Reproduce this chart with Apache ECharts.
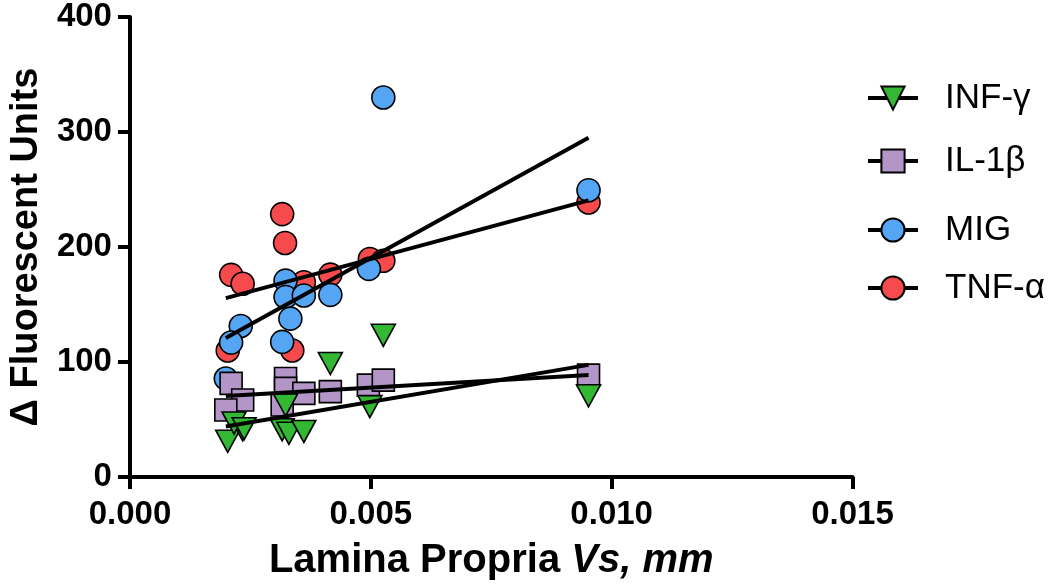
<!DOCTYPE html>
<html>
<head>
<meta charset="utf-8">
<script src="https://cdn.jsdelivr.net/npm/echarts@6/dist/echarts.min.js"></script>
<style>
html,body{margin:0;padding:0;background:#fff;}
#chart{width:1050px;height:586px;}
</style>
</head>
<body>
<div id="chart"></div>
<script>
// ---- data ----
const seriesNames = ['INF-γ', 'IL-1β', 'MIG', 'TNF-α'];

const infX = [0.00203, 0.00234, 0.00216, 0.00237, 0.00323, 0.00316, 0.00330, 0.00361, 0.00498, 0.00416, 0.00526, 0.00952];
const infY = [31, 41, 47, 42, 62.6, 41, 38, 39.6, 61.2, 98.7, 123.2, 70.6];

const ilX = [0.00210, 0.00234, 0.00199, 0.00323, 0.00323, 0.00361, 0.00416, 0.00495, 0.00526, 0.00316, 0.00952];
const ilY = [81.4, 66.9, 58.3, 85.7, 77.1, 72.7, 74.2, 79.9, 84.2, 62.6, 88.6];

const migX = [0.00496, 0.00526, 0.00952, 0.00323, 0.00323, 0.00361, 0.00416, 0.00333, 0.00230, 0.00210, 0.00316, 0.00199];
const migY = [181, 330, 249.4, 170.8, 156.5, 157.8, 158.4, 137.7, 131.3, 116.9, 117.5, 85.7];

const tnfX = [0.00316, 0.00322, 0.00210, 0.00234, 0.00361, 0.00416, 0.00498, 0.00526, 0.00203, 0.00337, 0.00952];
const tnfY = [228.6, 203.5, 175.8, 168, 169.4, 176, 189.6, 188, 110, 110, 238.7];

// regression lines (end points)
const fitX = [0.00199, 0.00952];
const fitINF = [43.9, 97.5];
const fitIL = [70.5, 88.8];
const fitMIG = [120.9, 294.9];
const fitTNF = [155.6, 240.6];

const xTicks = [0, 0.005, 0.010, 0.015];
const yTicks = [0, 100, 200, 300, 400];

// ---- chart ----
const FONT = "'Liberation Sans', Arial, sans-serif";
const pairs = (xs, ys) => xs.map((x, i) => [x, ys[i]]);

const colors = {
  'INF-γ': '#33b833',
  'IL-1β': '#b395c8',
  'MIG': '#55a5f5',
  'TNF-α': '#f64a4c'
};
const symbols = {
  'INF-γ': {symbol: 'triangle', size: [24, 22], rotate: 180},
  'IL-1β': {symbol: 'rect', size: 22, rotate: 0},
  'MIG': {symbol: 'circle', size: 23, rotate: 0},
  'TNF-α': {symbol: 'circle', size: 23, rotate: 0}
};
const dataMap = {
  'INF-γ': pairs(infX, infY),
  'IL-1β': pairs(ilX, ilY),
  'MIG': pairs(migX, migY),
  'TNF-α': pairs(tnfX, tnfY)
};
const fitMap = {
  'INF-γ': fitINF, 'IL-1β': fitIL, 'MIG': fitMIG, 'TNF-α': fitTNF
};

// draw order (bottom to top): TNF, MIG, IL, INF
const drawOrder = ['TNF-α', 'MIG', 'IL-1β', 'INF-γ'];
const series = drawOrder.map((name, i) => ({
  name: name,
  type: 'line',
  data: dataMap[name],
  symbol: symbols[name].symbol,
  symbolSize: symbols[name].size,
  symbolRotate: symbols[name].rotate,
  showSymbol: true,
  showAllSymbol: true,
  lineStyle: {width: 0, opacity: 0},
  itemStyle: {color: colors[name], borderColor: '#000', borderWidth: 1.6, opacity: 1},
  emphasis: {disabled: true},
  z: 2 + i,
  animation: false
}));
seriesNames.forEach(name => {
  series.push({
    name: name + ' fit',
    type: 'line',
    data: pairs(fitX, fitMap[name]),
    symbol: 'none',
    lineStyle: {color: '#000', width: 4},
    silent: true,
    z: 10,
    animation: false
  });
});

const legendCenters = [95, 158, 227, 285];
const legends = seriesNames.map((name, i) => ({
  data: [name],
  left: 866,
  top: legendCenters[i] - 14.5,
  orient: 'vertical',
  padding: 0,
  itemWidth: 50,
  itemHeight: 29,
  selectedMode: false,
  lineStyle: {color: '#000', width: 4, opacity: 1},
  textStyle: {fontFamily: FONT, fontSize: 35, color: '#000', lineHeight: 29, padding: [0, 0, 0, 22]}
}));

const chart = echarts.init(document.getElementById('chart'), null, {renderer: 'canvas'});
chart.setOption({
  animation: false,
  backgroundColor: '#fff',
  grid: {left: 125, right: 1050 - 852.5, top: 17, bottom: 586 - 479, containLabel: false},
  legend: legends,
  xAxis: {
    type: 'value',
    min: xTicks[0],
    max: xTicks[xTicks.length - 1],
    interval: xTicks[1] - xTicks[0],
    name: '{a|Lamina Propria }{b|Vs, mm}',
    nameLocation: 'middle',
    nameGap: 64,
    nameTextStyle: {
      rich: {
        a: {fontFamily: FONT, fontSize: 40, fontWeight: 'bold', color: '#000'},
        b: {fontFamily: FONT, fontSize: 40, fontWeight: 'bold', fontStyle: 'italic', color: '#000'}
      }
    },
    axisLine: {show: true, onZero: false, lineStyle: {color: '#000', width: 4}},
    axisTick: {show: true, length: 12, inside: false, lineStyle: {color: '#000', width: 4}},
    axisLabel: {
      show: true, margin: 21, fontFamily: FONT, fontSize: 33, fontWeight: 'bold', color: '#000',
      showMinLabel: true, showMaxLabel: true,
      formatter: v => v.toFixed(3)
    },
    splitLine: {show: false}
  },
  yAxis: {
    type: 'value',
    min: yTicks[0],
    max: yTicks[yTicks.length - 1],
    interval: yTicks[1] - yTicks[0],
    name: 'Δ Fluorescent Units',
    nameLocation: 'middle',
    nameGap: 75,
    nameRotate: 90,
    nameTextStyle: {fontFamily: FONT, fontSize: 38, fontWeight: 'bold', color: '#000'},
    axisLine: {show: true, onZero: false, lineStyle: {color: '#000', width: 4}},
    axisTick: {show: true, length: 12, inside: false, lineStyle: {color: '#000', width: 4}},
    axisLabel: {
      show: true, margin: 18, fontFamily: FONT, fontSize: 33, fontWeight: 'bold', color: '#000',
      showMinLabel: true, showMaxLabel: true
    },
    splitLine: {show: false}
  },
  series: series
});
</script>
</body>
</html>
